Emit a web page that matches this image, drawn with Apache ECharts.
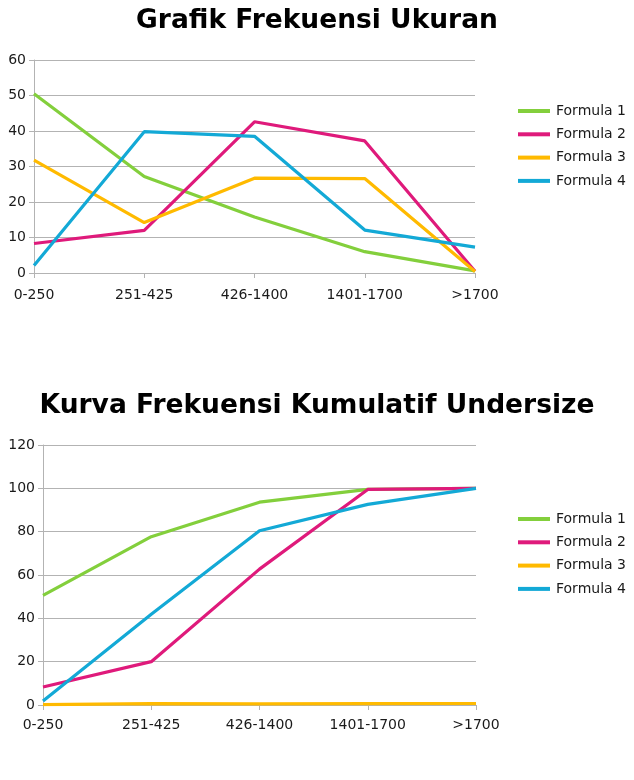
<!DOCTYPE html>
<html>
<head>
<meta charset="utf-8">
<script src="https://cdn.jsdelivr.net/npm/echarts@6/dist/echarts.min.js"></script>
<style>html,body{margin:0;padding:0;background:#fff}#c{width:634px;height:780px}</style>
</head>
<body>
<div id="c"></div>
<script>
const categories = ['0-250', '251-425', '426-1400', '1401-1700', '>1700'];
const seriesNames = ['Formula 1', 'Formula 2', 'Formula 3', 'Formula 4'];
const colors = ['#83cf3c', '#df1a7b', '#ffba00', '#13a9d6'];

// Grafik Frekuensi Ukuran
const freqF1 = [50.5, 27.2, 15.8, 6.0, 0.6];
const freqF2 = [8.3, 12.0, 42.6, 37.2, 0.5];
const freqF3 = [31.8, 14.2, 26.7, 26.6, 0.4];
const freqF4 = [2.1, 39.8, 38.5, 12.1, 7.3];

// Kurva Frekuensi Kumulatif Undersize
const cumF1 = [50.6, 77.7, 93.6, 99.5, 100];
const cumF2 = [8.3, 20.0, 62.7, 99.5, 100];
const cumF3 = [0.2, 0.6, 0.5, 0.6, 0.7];
const cumF4 = [1.8, 41.9, 80.4, 92.6, 100];

const freqTicks1 = {min: 0, max: 60, interval: 10};
const freqTicks2 = {min: 0, max: 120, interval: 20};

const freqData = [freqF1, freqF2, freqF3, freqF4];
const cumData = [cumF1, cumF2, cumF3, cumF4];

const font = 'DejaVu Sans';
const axisLine = {show: true, lineStyle: {color: '#b3b3b3', width: 1}};

function xAxis(gridIndex, margin) {
  return {
    type: 'category', gridIndex, data: categories, boundaryGap: false,
    axisLine, axisTick: {show: true, length: 5, lineStyle: {color: '#b3b3b3'}, alignWithLabel: true},
    axisLabel: {color: '#1a1a1a', fontFamily: font, fontSize: 14, margin, interval: 0,
      alignMinLabel: 'center', alignMaxLabel: 'center', showMinLabel: true, showMaxLabel: true, hideOverlap: false},
    splitLine: {show: false}
  };
}
function yAxis(gridIndex, t) {
  return {
    type: 'value', gridIndex, min: t.min, max: t.max, interval: t.interval,
    axisLine, axisTick: {show: true, length: 5, lineStyle: {color: '#b3b3b3'}},
    axisLabel: {color: '#1a1a1a', fontFamily: font, fontSize: 14, margin: 8},
    splitLine: {show: true, lineStyle: {color: '#b3b3b3', width: 1}}
  };
}

const series = [];
seriesNames.forEach((n, i) => {
  series.push({name: n, type: 'line', xAxisIndex: 0, yAxisIndex: 0, data: freqData[i],
    symbol: 'none', lineStyle: {color: colors[i], width: 3.2}, itemStyle: {color: colors[i]}, animation: false});
});
seriesNames.forEach((n, i) => {
  series.push({name: n, type: 'line', xAxisIndex: 1, yAxisIndex: 1, data: cumData[i],
    symbol: 'none', lineStyle: {color: colors[i], width: 3.2}, itemStyle: {color: colors[i]}, animation: false});
});

function legend(top) {
  return {
    orient: 'vertical', left: 518, top, padding: 0, itemWidth: 32, itemHeight: 4, itemGap: 9.3,
    icon: 'rect', data: seriesNames,
    textStyle: {fontFamily: font, fontSize: 14, color: '#1a1a1a', padding: [0, 0, 0, 1]}
  };
}

const chart = echarts.init(document.getElementById('c'), null, {renderer: 'canvas'});
chart.setOption({
  backgroundColor: '#fff',
  animation: false,
  title: [
    {text: 'Grafik Frekuensi Ukuran', left: 'center', top: 3,
      textStyle: {fontFamily: font, fontSize: 26.5, fontWeight: 'bold', color: '#000'}},
    {text: 'Kurva Frekuensi Kumulatif Undersize', left: 'center', top: 388,
      textStyle: {fontFamily: font, fontSize: 26.5, fontWeight: 'bold', color: '#000'}}
  ],
  legend: [legend(104), legend(512)],
  grid: [
    {left: 34, right: 159, top: 60, bottom: 507, outerBoundsMode: 'none'},
    {left: 43, right: 158, top: 445, bottom: 75, outerBoundsMode: 'none'}
  ],
  xAxis: [xAxis(0, 15), xAxis(1, 13)],
  yAxis: [yAxis(0, freqTicks1), yAxis(1, freqTicks2)],
  series
});
</script>
</body>
</html>
